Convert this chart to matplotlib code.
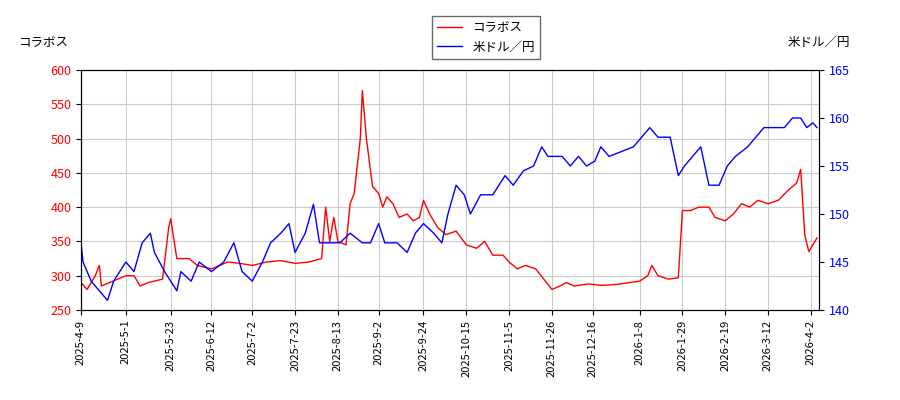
import matplotlib
matplotlib.use("Agg")
import matplotlib.pyplot as plt
import pandas as pd

plt.rcParams['font.family'] = ['Noto Sans CJK JP', 'DejaVu Sans']

red_dates = ["2025-04-09","2025-04-12","2025-04-16","2025-04-18","2025-04-19","2025-04-23","2025-05-01","2025-05-05","2025-05-08","2025-05-12","2025-05-19","2025-05-22","2025-05-23","2025-05-26","2025-06-01","2025-06-05","2025-06-12","2025-06-16","2025-06-20","2025-06-26","2025-07-02","2025-07-09","2025-07-16","2025-07-23","2025-07-30","2025-08-05","2025-08-07","2025-08-09","2025-08-11","2025-08-13","2025-08-17","2025-08-19","2025-08-21","2025-08-24","2025-08-25","2025-08-27","2025-08-30","2025-09-02","2025-09-04","2025-09-06","2025-09-09","2025-09-12","2025-09-16","2025-09-19","2025-09-22","2025-09-24","2025-09-27","2025-10-01","2025-10-05","2025-10-10","2025-10-15","2025-10-20","2025-10-24","2025-10-28","2025-11-02","2025-11-05","2025-11-09","2025-11-13","2025-11-18","2025-11-22","2025-11-26","2025-11-30","2025-12-03","2025-12-07","2025-12-14","2025-12-20","2025-12-27","2026-01-03","2026-01-08","2026-01-12","2026-01-14","2026-01-17","2026-01-22","2026-01-27","2026-01-29","2026-02-02","2026-02-06","2026-02-11","2026-02-14","2026-02-19","2026-02-23","2026-02-27","2026-03-03","2026-03-07","2026-03-12","2026-03-17","2026-03-22","2026-03-26","2026-03-28","2026-03-30","2026-04-01","2026-04-03","2026-04-05"]
red_vals = [290,280,300,315,285,290,300,300,285,290,295,370,383,325,325,315,310,315,320,318,315,320,322,318,320,325,400,350,385,350,345,405,420,500,570,500,430,420,400,415,405,385,390,380,385,410,390,370,360,365,345,340,350,330,330,320,310,315,310,295,280,285,290,285,288,286,287,290,292,300,315,300,295,297,395,395,400,400,385,380,390,405,400,410,405,410,425,435,455,360,335,345,355]

blue_dates = ["2025-04-09","2025-04-10","2025-04-14","2025-04-18","2025-04-22","2025-04-25","2025-05-01","2025-05-05","2025-05-09","2025-05-13","2025-05-15","2025-05-20","2025-05-26","2025-05-28","2025-06-02","2025-06-06","2025-06-12","2025-06-18","2025-06-23","2025-06-27","2025-07-02","2025-07-07","2025-07-11","2025-07-16","2025-07-20","2025-07-23","2025-07-28","2025-08-01","2025-08-04","2025-08-08","2025-08-14","2025-08-19","2025-08-25","2025-08-29","2025-09-02","2025-09-05","2025-09-11","2025-09-16","2025-09-20","2025-09-24","2025-09-29","2025-10-03","2025-10-06","2025-10-10","2025-10-14","2025-10-17","2025-10-22","2025-10-28","2025-11-03","2025-11-07","2025-11-12","2025-11-17","2025-11-21","2025-11-24","2025-12-01","2025-12-05","2025-12-09","2025-12-13","2025-12-17","2025-12-20","2025-12-24","2025-12-30","2026-01-05","2026-01-09","2026-01-13","2026-01-17","2026-01-23","2026-01-27","2026-01-30","2026-02-03","2026-02-07","2026-02-11","2026-02-16","2026-02-20","2026-02-24","2026-03-02","2026-03-06","2026-03-10","2026-03-16","2026-03-20","2026-03-24","2026-03-28","2026-03-31","2026-04-03","2026-04-05"]
blue_vals = [147,145,143,142,141,143,145,144,147,148,146,144,142,144,143,145,144,145,147,144,143,145,147,148,149,146,148,151,147,147,147,148,147,147,149,147,147,146,148,149,148,147,150,153,152,150,152,152,154,153,154.5,155,157,156,156,155,156,155,155.5,157,156,156.5,157,158,159,158,158,154,155,156,157,153,153,155,156,157,158,159,159,159,160,160,159,159.5,159]

tick_dates = ["2025-04-09","2025-05-01","2025-05-23","2025-06-12","2025-07-02","2025-07-23","2025-08-13","2025-09-02","2025-09-24","2025-10-15","2025-11-05","2025-11-26","2025-12-16","2026-01-08","2026-01-29","2026-02-19","2026-03-12","2026-04-02"]

rd = pd.to_datetime(red_dates)
bd = pd.to_datetime(blue_dates)
ticks = pd.to_datetime(tick_dates)

fig = plt.figure(figsize=(9, 4), dpi=100)
ax = fig.add_axes([0.09, 0.225, 0.82, 0.6])
ax2 = ax.twinx()
l1, = ax.plot(rd, red_vals, color='red', lw=1, label='コラボス')
l2, = ax2.plot(bd, blue_vals, color='blue', lw=1, label='米ドル／円')
ax.set_ylim(250, 600)
ax2.set_ylim(140, 165)
ax.set_yticks(range(250, 601, 50))
ax2.set_yticks(range(140, 166, 5))
ax.set_xticks(ticks)
ax.set_xticklabels([f"{t.year}-{t.month}-{t.day}" for t in ticks], rotation=90, fontsize=8)
ax.set_xlim(ticks[0], pd.Timestamp("2026-04-06"))
ax.tick_params(axis='y', labelsize=9)
ax2.tick_params(axis='y', labelsize=9)
for lab in ax.get_yticklabels(): lab.set_color('red')
for lab in ax2.get_yticklabels(): lab.set_color('blue')
ax.grid(True, color='#cccccc', lw=0.8)
fig.text(0.02, 0.885, 'コラボス', fontsize=9)
fig.text(0.945, 0.885, '米ドル／円', fontsize=9, ha='right')
fig.legend(handles=[l1, l2], loc='upper center', bbox_to_anchor=(0.54, 0.975), fontsize=9, fancybox=False, edgecolor='#444444')
fig.savefig('out.png')
